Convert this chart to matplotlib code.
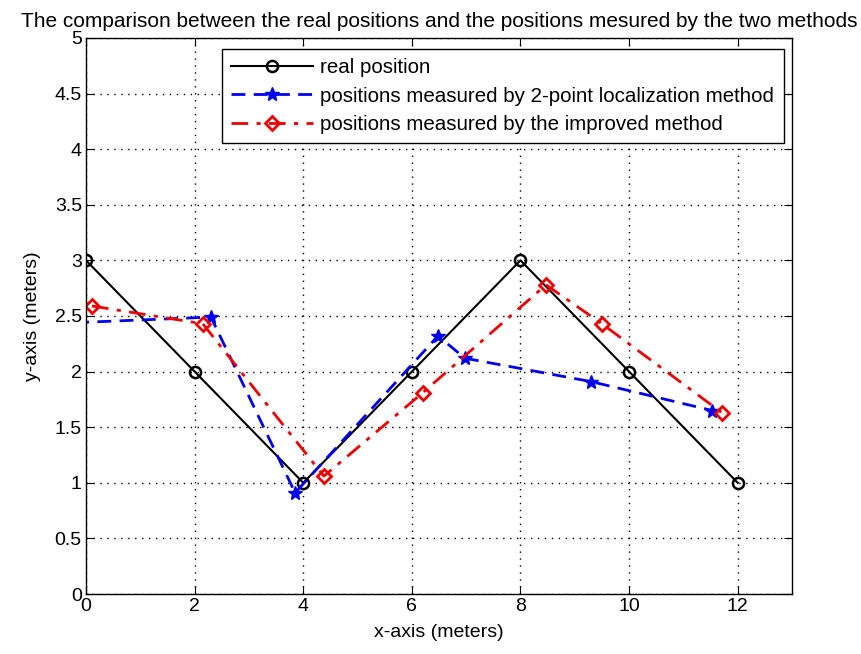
import numpy as np
import matplotlib
matplotlib.use("Agg")
import matplotlib.pyplot as plt

plt.rcParams['font.family'] = ['Liberation Sans', 'DejaVu Sans']

# real positions
real_x = [0, 2, 4, 6, 8, 10, 12]
real_y = [3, 2, 1, 2, 3, 2, 1]

# positions measured by 2-point localization method (first point lies just left of the axes)
two_pt_x = [-0.2, 2.3, 3.85, 6.48, 6.98, 9.3, 11.53]
two_pt_y = [2.44, 2.49, 0.91, 2.32, 2.12, 1.91, 1.65]

# positions measured by the improved method
impr_x = [0.11, 2.15, 4.38, 6.2, 8.47, 9.5, 11.71]
impr_y = [2.59, 2.43, 1.06, 1.81, 2.78, 2.43, 1.63]

fig = plt.figure(figsize=(8.62, 6.54), dpi=100)
ax = fig.add_axes([0.0998, 0.0917, 0.819, 0.8503])

ax.plot(real_x, real_y, color='black', linestyle='-', linewidth=1.5,
        marker='o', markersize=8, markerfacecolor='none', markeredgewidth=1.8,
        label='real position')
ax.plot(two_pt_x, two_pt_y, color='#0000ee', linestyle=(0, (5, 3)), linewidth=2,
        marker='*', markersize=10, label='positions measured by 2-point localization method')
ax.plot(impr_x, impr_y, color='#ee0000', linestyle=(0, (6, 3, 1.5, 3)), linewidth=2,
        marker='D', markersize=7, markerfacecolor='none', markeredgewidth=2,
        label='positions measured by the improved method')

ax.set_xlim(0, 13)
ax.set_ylim(0, 5)
ax.set_xticks(np.arange(0, 13, 2))
ax.set_yticks(np.arange(0, 5.01, 0.5))
ax.set_yticklabels(['0', '0.5', '1', '1.5', '2', '2.5', '3', '3.5', '4', '4.5', '5'])
ax.tick_params(direction='in', length=6, labelsize=14, top=True, right=True, pad=3)
ax.grid(True, color='black', linestyle=(0, (1, 4)), linewidth=1)
for s in ax.spines.values():
    s.set_linewidth(1)

ax.set_xlabel('x-axis (meters)', fontsize=14, labelpad=6)
ax.set_ylabel('y-axis (meters)', fontsize=14, labelpad=10)
ax.set_title('The comparison between the real positions and the positions mesured by the two methods',
             fontsize=15, pad=8)

leg = ax.legend(loc='upper right', bbox_to_anchor=(0.988, 0.98), fontsize=14.8,
                fancybox=False, framealpha=1, edgecolor='black', handlelength=4.0,
                borderpad=0.45, labelspacing=0.45, handletextpad=0.35, borderaxespad=0)
leg.get_frame().set_linewidth(1)

fig.savefig('out.png', dpi=100)
